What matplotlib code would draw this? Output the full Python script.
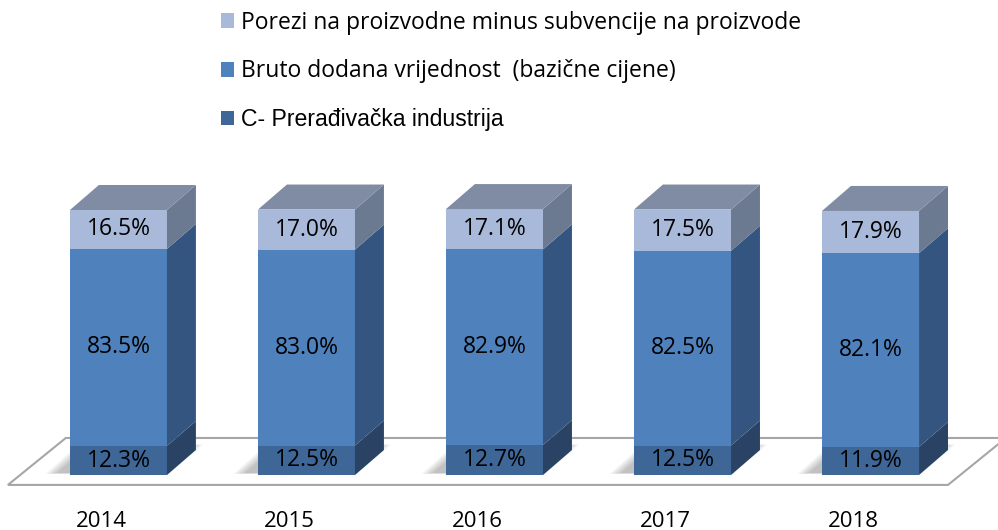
import matplotlib.pyplot as plt
from matplotlib.patches import Polygon, Patch
import numpy as np

years = ["2014", "2015", "2016", "2017", "2018"]
preradjivacka = [12.3, 12.5, 12.7, 12.5, 11.9]
bruto = [83.5, 83.0, 82.9, 82.5, 82.1]
porezi = [16.5, 17.0, 17.1, 17.5, 17.9]

series_names = ["C- Prerađivačka industrija",
                "Bruto dodana vrijednost  (bazične cijene)",
                "Porezi na proizvodne minus subvencije na proizvode"]

# front, side, top colours per series
front_cols = ["#3e6696", "#4f81bd", "#a9b9d9"]
side_cols = ["#2a4364", "#33557f", "#6b7991"]
top_col = "#7f8ca3"

W = 0.516   # bar width in category units
DX = 0.154  # depth offset (x)
DY = 10.6   # depth offset (y, percent units)

fig = plt.figure(figsize=(9.98, 5.30), dpi=100)
ax = fig.add_axes([0, 0, 1, 1])
ax.set_xlim(-0.630, 4.678)
ax.set_ylim(-23.3, 201.3)
ax.axis("off")

# floor
fl, fr, fy = -0.588, 4.412, -4.2
floor = Polygon([(fl, fy), (fr, fy), (fr + 2 * DX, fy + 2 * DY - 1.3),
                 (fl + 2 * DX, fy + 2 * DY - 1.3)],
                closed=True, facecolor="white", edgecolor="#a6a6a6", lw=1.5, zorder=1)
ax.add_patch(floor)

x = np.arange(len(years))
for i in x:
    x0 = i - W / 2
    x1 = i + W / 2
    # soft shadow, mostly behind and left of the base
    for k in range(6):
        grow = 0.012 * k
        sh = Polygon([(x0 - 0.07 - grow, 0.8 - grow * 6), (x1 - 0.05 + grow, 0.8 - grow * 6),
                      (x1 + DX - 0.02 + grow, DY + 2 + grow * 6), (x0 + DX - 0.05 - grow, DY + 2 + grow * 6)],
                     closed=True, facecolor="black", alpha=0.045, lw=0, zorder=2)
        ax.add_patch(sh)

    vals = [preradjivacka[i], bruto[i], porezi[i]]
    bottom = 0
    for s, v in enumerate(vals):
        top = bottom + v
        ax.add_patch(Polygon([(x0, bottom), (x1, bottom), (x1, top), (x0, top)],
                             closed=True, facecolor=front_cols[s], lw=0, zorder=3))
        ax.add_patch(Polygon([(x1, bottom), (x1 + DX, bottom + DY), (x1 + DX, top + DY), (x1, top)],
                             closed=True, facecolor=side_cols[s], lw=0, zorder=3))
        ax.text(i, bottom + v / 2, f"{v:.1f}%", ha="center", va="center",
                fontsize=16.5, family="Open Sans", color="black", zorder=5)
        bottom = top
    ax.add_patch(Polygon([(x0, bottom), (x0 + DX, bottom + DY), (x1 + DX, bottom + DY), (x1, bottom)],
                         closed=True, facecolor=top_col, lw=0, zorder=3))
    ax.text(i - 0.09, -19.5, years[i], ha="center", va="center",
            fontsize=16, family="Open Sans", color="black")

handles = [Patch(facecolor=front_cols[s], edgecolor="none") for s in (2, 1, 0)]
labels = [series_names[s] for s in (2, 1, 0)]
leg = ax.legend(handles, labels, loc="upper left", bbox_to_anchor=(200 / 998, 1 + 10 / 530),
                frameon=False, handlelength=0.6, handleheight=0.6, handletextpad=0.3,
                labelspacing=1.08, prop={"family": "Open Sans", "size": 16.5})
leg.get_texts()[2].set_fontfamily("Liberation Sans")
leg.get_texts()[2].set_fontsize(16.6)

fig.savefig("out.png", dpi=100)
